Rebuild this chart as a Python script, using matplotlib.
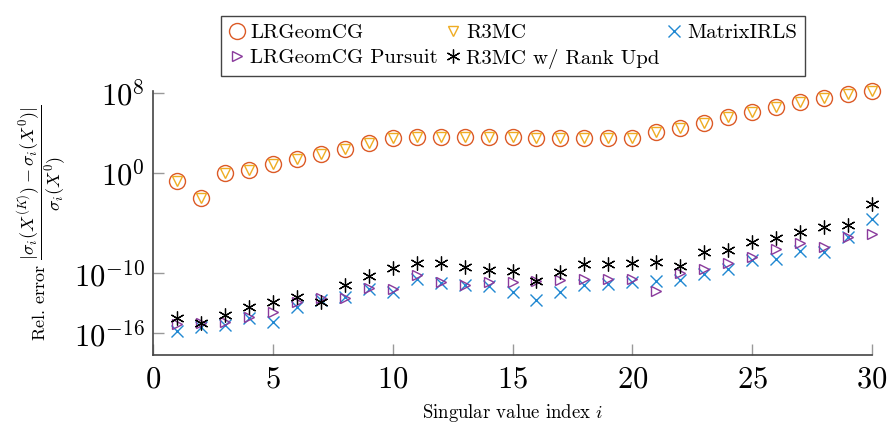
import numpy as np
import matplotlib
matplotlib.use("Agg")
import matplotlib.pyplot as plt

plt.rcParams['mathtext.fontset'] = 'cm'
plt.rcParams['font.family'] = ['cmr10', 'DejaVu Serif']
plt.rcParams['axes.formatter.use_mathtext'] = True

# singular value index
idx = np.arange(1, 31)

# log10 of the relative errors
lrgeomcg_log = [-0.8, -2.5, 0.0, 0.3, 0.87, 1.4, 1.93, 2.4, 2.96, 3.46,
                3.56, 3.6, 3.6, 3.6, 3.55, 3.5, 3.5, 3.5, 3.5, 3.5,
                4.12, 4.52, 5.0, 5.55, 6.05, 6.58, 7.05, 7.5, 7.85, 8.2]
r3mc_log = lrgeomcg_log
irls_log = [-15.75, -15.32, -15.15, -14.43, -14.83, -13.39, -12.66, -12.33, -11.6, -11.83,
            -10.6, -10.93, -11.17, -11.27, -11.83, -12.66, -11.83, -11.17, -11.1, -10.84,
            -10.77, -10.67, -10.07, -9.57, -8.67, -8.61, -7.74, -7.84, -6.41, -4.59]
pursuit_log = [-15.09, -14.92, -14.82, -14.33, -13.83, -12.9, -12.5, -12.43, -11.5, -11.6,
               -10.17, -10.84, -11.17, -10.84, -10.84, -10.77, -10.67, -10.6, -10.57, -10.57,
               -11.76, -10.0, -9.6, -9.0, -8.34, -7.61, -7.01, -7.41, -6.41, -6.08]
rankupd_log = [-14.49, -14.99, -14.16, -13.33, -12.83, -12.33, -12.83, -11.17, -10.27, -9.44,
               -9.0, -9.0, -9.34, -9.67, -9.74, -10.77, -9.84, -9.1, -9.1, -9.0,
               -8.9, -9.24, -7.84, -7.68, -6.85, -6.51, -5.85, -5.35, -5.18, -3.09]

yticks = [1e-16, 1e-10, 1e0, 1e8]

fig = plt.figure(figsize=(8.89, 4.26), dpi=100)
ax = fig.add_axes([153/889, 1-354.7/426, (872-153)/889, (354.7-90.7)/426])

c_orange = '#dc5a26'
c_yellow = '#efac22'
c_blue = '#2088d2'
c_purple = '#8a3a9c'

h1, = ax.plot(idx, 10.0**np.array(lrgeomcg_log), 'o', ms=11.5, mfc='none', mec=c_orange, mew=1.0, clip_on=False)
h2, = ax.plot(idx, 10.0**np.array(r3mc_log), 'v', ms=7.5, mfc='none', mec=c_yellow, mew=1.0, clip_on=False)
h3, = ax.plot(idx, 10.0**np.array(irls_log), 'x', ms=8, mec=c_blue, mew=1.0, clip_on=False)
h4, = ax.plot(idx, 10.0**np.array(pursuit_log), '>', ms=6.5, mfc='none', mec=c_purple, mew=1.0, clip_on=False)
h5, = ax.plot(idx, 10.0**np.array(rankupd_log), ls='none', marker=(6, 2, 0), ms=10, mec='black', mew=0.9, clip_on=False)

ax.set_yscale('log')
ax.set_xlim(0, 30)
ax.set_ylim(10**-18.12, 10**8.2)
ax.set_yticks(yticks)
ax.yaxis.set_minor_locator(matplotlib.ticker.NullLocator())
ax.set_xticks([0, 5, 10, 15, 20, 25, 30])
ax.set_xticklabels(['$0$', '$5$', '$10$', '$15$', '$20$', '$25$', '$30$'])
ax.set_yticklabels(['$10^{-16}$', '$10^{-10}$', '$10^{0}$', '$10^{8}$'])

for s in ['top', 'right']:
    ax.spines[s].set_visible(False)
for s in ['left', 'bottom']:
    ax.spines[s].set_color('#444444')
    ax.spines[s].set_linewidth(1.2)
ax.tick_params(direction='in', length=8, width=1, color='#999999', labelsize=22, pad=6)
ax.tick_params(axis='x', labelsize=22, pad=8)

ax.set_xlabel('Singular value index $i$', fontsize=13.5, labelpad=6)
ax.set_ylabel(r'Rel. error $\dfrac{|\sigma_i(X^{(K)})-\sigma_i(X^0)|}{\sigma_i(X^0)}$', fontsize=13, labelpad=4)

leg = fig.legend([h1, h4, h2, h5, h3],
                 ['LRGeomCG', 'LRGeomCG Pursuit', 'R3MC', 'R3MC w/ Rank Upd', 'MatrixIRLS'],
                 ncol=3, loc='upper center', bbox_to_anchor=(513/889, 1-6/426),
                 fontsize=15, frameon=True, fancybox=False, framealpha=1,
                 edgecolor='#444444', handlelength=0.8, handletextpad=0.25,
                 columnspacing=0.3, labelspacing=0.3, borderpad=0.35)
leg.get_frame().set_linewidth(1.0)

fig.savefig('out.png', dpi=100)
